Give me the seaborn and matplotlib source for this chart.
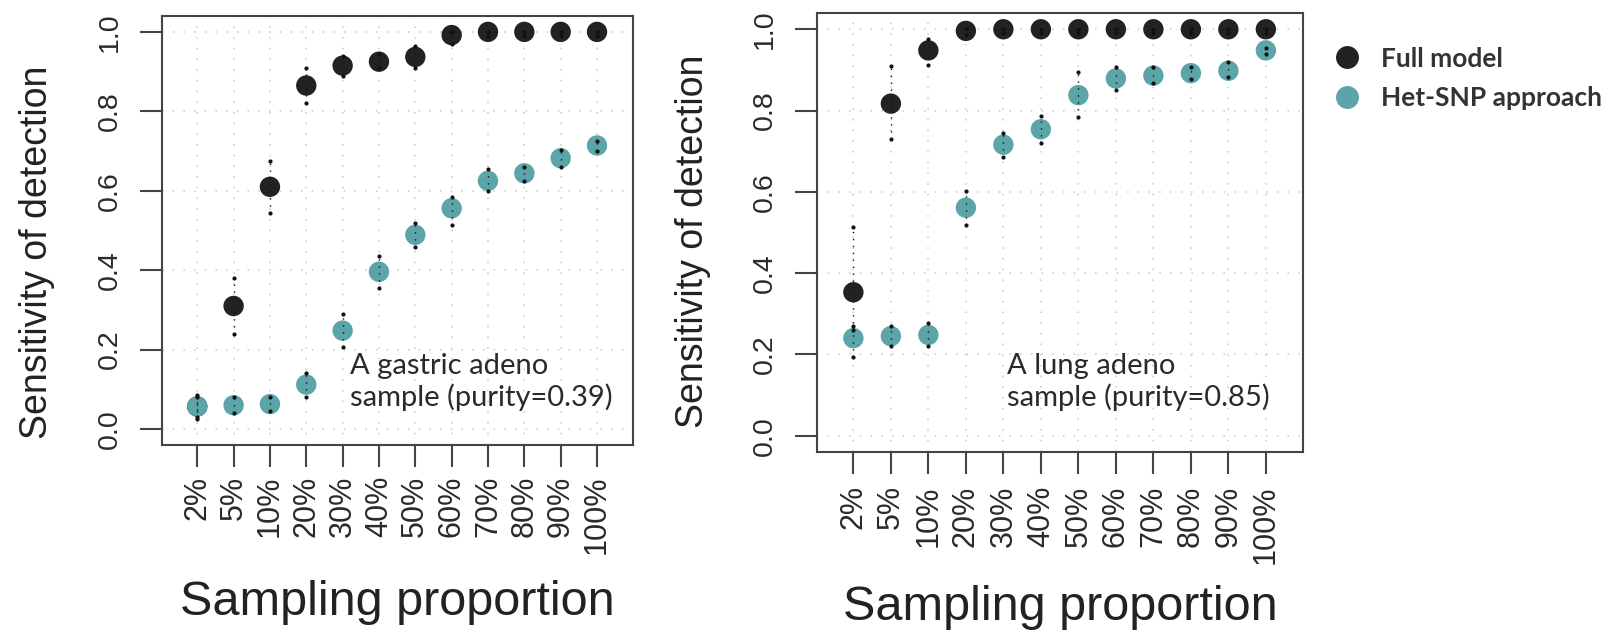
import matplotlib
matplotlib.use("Agg")
import matplotlib.pyplot as plt
import seaborn as sns
import pandas as pd
from matplotlib.lines import Line2D

# Sampling proportions on the x axis
proportions = ["2%", "5%", "10%", "20%", "30%", "40%", "50%",
               "60%", "70%", "80%", "90%", "100%"]

# Gastric adenocarcinoma sample (purity 0.39)
gastric_full = [0.057, 0.31, 0.61, 0.865, 0.915, 0.925, 0.937, 0.992, 1.0, 1.0, 1.0, 1.0]
gastric_full_lo = [0.03, 0.24, 0.545, 0.82, 0.89, 0.91, 0.91, 0.97, 0.99, 0.99, 0.99, 0.99]
gastric_full_hi = [0.08, 0.38, 0.675, 0.91, 0.94, 0.945, 0.965, 1.0, 1.0, 1.0, 1.0, 1.0]
gastric_het = [0.057, 0.06, 0.063, 0.112, 0.248, 0.396, 0.489, 0.556, 0.625, 0.644, 0.682, 0.714]
gastric_het_lo = [0.025, 0.04, 0.045, 0.08, 0.206, 0.354, 0.459, 0.515, 0.599, 0.624, 0.659, 0.70]
gastric_het_hi = [0.086, 0.08, 0.08, 0.141, 0.29, 0.435, 0.52, 0.585, 0.655, 0.66, 0.703, 0.725]

# Lung adenocarcinoma sample (purity 0.85)
lung_full = [0.353, 0.817, 0.948, 0.996, 1.0, 1.0, 1.0, 1.0, 1.0, 1.0, 1.0, 1.0]
lung_full_lo = [0.26, 0.73, 0.913, 0.985, 0.99, 0.99, 0.99, 0.99, 0.99, 0.99, 0.99, 0.99]
lung_full_hi = [0.514, 0.91, 0.977, 1.0, 1.0, 1.0, 1.0, 1.0, 1.0, 1.0, 1.0, 1.0]
lung_het = [0.24, 0.245, 0.248, 0.561, 0.716, 0.754, 0.838, 0.879, 0.886, 0.892, 0.898, 0.948]
lung_het_lo = [0.194, 0.22, 0.22, 0.519, 0.685, 0.719, 0.783, 0.851, 0.868, 0.877, 0.882, 0.94]
lung_het_hi = [0.27, 0.27, 0.277, 0.601, 0.744, 0.787, 0.895, 0.908, 0.908, 0.908, 0.92, 0.955]

methods = ["Full model", "Het-SNP approach"]
colors = {"Full model": "#222222", "Het-SNP approach": "#5ba4a7"}
yticks = [0.0, 0.2, 0.4, 0.6, 0.8, 1.0]

sns.set_theme(style="white")
plt.rcParams["font.family"] = ["Liberation Sans", "DejaVu Sans"]

fig = plt.figure(figsize=(16.19, 6.36), dpi=100)


def build_frame(full, full_lo, full_hi, het, het_lo, het_hi):
    rows = []
    for i, p in enumerate(proportions):
        rows.append(dict(pos=i, prop=p, method=methods[0], value=full[i],
                         lo=full_lo[i], hi=full_hi[i]))
    for i, p in enumerate(proportions):
        rows.append(dict(pos=i, prop=p, method=methods[1], value=het[i],
                         lo=het_lo[i], hi=het_hi[i]))
    return pd.DataFrame(rows)


def draw_panel(rect, df, note, note_xy, ylab_x, ylab_y, xlab_y, tick_pad_x):
    ax = fig.add_axes(rect)
    ax.set_xlim(-0.97, 11.99)
    ax.set_ylim(-0.04, 1.04)

    # dotted grid
    for i in range(len(proportions)):
        ax.axvline(i, color="#c8c8c8", lw=1.1, ls=(0, (1, 6)), zorder=0)
    for y in yticks:
        ax.axhline(y, color="#c8c8c8", lw=1.1, ls=(0, (1, 6)), zorder=0)

    sns.scatterplot(data=df, x="pos", y="value", hue="method",
                    palette=colors, hue_order=methods, s=215,
                    edgecolor="none", legend=False, ax=ax, zorder=3)

    # replicate range as dotted whiskers
    for _, r in df.iterrows():
        ax.vlines(r["pos"], r["lo"], r["hi"], color="#111111", lw=1.0,
                  ls=(0, (1, 4)), zorder=4)
        ax.plot([r["pos"], r["pos"]], [r["lo"], r["hi"]], ls="none",
                marker="o", ms=2.0, color="#111111", zorder=4)

    ax.set_xticks(range(len(proportions)))
    ax.set_xticklabels(proportions, rotation=90, fontsize=22, color="#2a2a2a")
    ax.set_yticks(yticks)
    ax.set_yticklabels([f"{v:.1f}" for v in yticks], rotation=90,
                       fontsize=20.5, color="#2a2a2a", va="center")
    ax.tick_params(axis="x", length=16, width=1.5, color="#444444",
                   pad=tick_pad_x, bottom=True, direction="out")
    ax.tick_params(axis="y", length=16, width=1.5, color="#444444",
                   pad=12, left=True, direction="out")
    for s in ax.spines.values():
        s.set_color("#444444")
        s.set_linewidth(1.5)

    ax.set_xlabel("Sampling proportion", fontsize=35, color="#222222")
    ax.xaxis.set_label_coords(0.5, xlab_y)
    ax.xaxis.label.set_va("center")
    ax.set_ylabel("Sensitivity of detection", fontsize=27, color="#222222")
    ax.yaxis.set_label_coords(ylab_x, ylab_y)
    ax.yaxis.label.set_va("center")

    ax.text(note_xy[0], note_xy[1], note, transform=ax.transAxes,
            fontsize=21, family=["Lato", "DejaVu Sans"], color="#2a2a2a",
            ha="left", va="top", linespacing=1.2)
    return ax


df_gastric = build_frame(gastric_full, gastric_full_lo, gastric_full_hi,
                         gastric_het, gastric_het_lo, gastric_het_hi)
df_lung = build_frame(lung_full, lung_full_lo, lung_full_hi,
                      lung_het, lung_het_lo, lung_het_hi)

draw_panel([162 / 1619, 1 - 445 / 636, 471 / 1619, 429 / 636], df_gastric,
           "A gastric adeno\nsample (purity=0.39)", (0.40, 0.215),
           -0.265, 0.45, -0.366, 6)
draw_panel([817 / 1619, 1 - 452 / 636, 486 / 1619, 439 / 636], df_lung,
           "A lung adeno\nsample (purity=0.85)", (0.39, 0.225),
           -0.255, 0.48, -0.355, 8)

# legend
handles = [Line2D([], [], ls="none", marker="o", ms=16.5, color=colors[m],
                  markeredgewidth=0) for m in methods]
leg = fig.legend(handles, methods, loc="upper left",
                 bbox_to_anchor=(1310 / 1619, 1 - 36 / 636), frameon=False,
                 handletextpad=0.3, labelspacing=0.6, borderaxespad=0,
                 prop={"family": "Lato", "size": 19, "weight": "bold"})
for t in leg.get_texts():
    t.set_color("#333333")

fig.savefig("out.png", dpi=100)
